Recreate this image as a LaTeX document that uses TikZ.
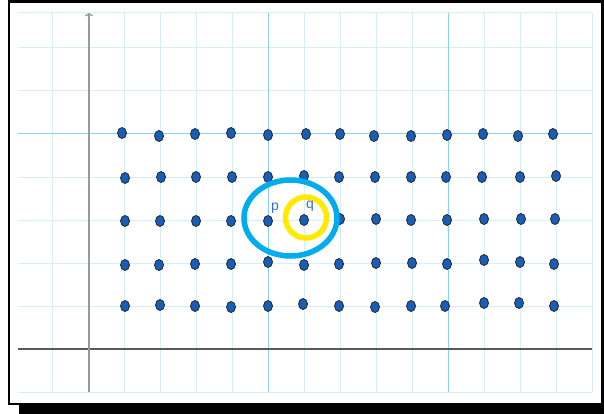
\documentclass[tikz,border=0pt]{standalone}
\usepackage{fontspec}
\setsansfont{Liberation Sans}
\usetikzlibrary{shapes.geometric, arrows.meta}

\definecolor{gridminor}{RGB}{214,237,250}
\definecolor{gridmajor}{RGB}{140,208,242}
\definecolor{dotblue}{RGB}{22,94,184}
\definecolor{ringblue}{RGB}{0,172,236}
\definecolor{ringyellow}{RGB}{255,234,0}
\definecolor{labelblue}{RGB}{60,110,200}

\begin{document}
\begin{tikzpicture}[
          x=1pt, y=-1pt,
          dot/.style={ellipse, draw=black!85, fill=dotblue, line width=0.8pt,
                      minimum width=9pt, minimum height=11pt, inner sep=0pt},
          lbl/.style={text=labelblue, font=\sffamily\fontsize{14}{14}\selectfont,
                      inner sep=0pt}
        ]
          \useasboundingbox (0,0) rectangle (604,414);
          % frame and shadow
          \fill[white] (9,1.5) rectangle (602.5,404);
          \draw[line width=2.5pt] (9,1.5) rectangle (602.5,404);
          \fill[black] (19,403) rectangle (604,414);
          % grid
          \foreach \gx in {52,124,160,196,232,304,340,376,412,484,520,556,592}
            \draw[gridminor, line width=1pt] (\gx,13) -- (\gx,392);
          \foreach \gy in {13,48,91,177,220,263,306,392}
            \draw[gridminor, line width=1pt] (18,\gy) -- (592,\gy);
          \foreach \gx in {268,448}
            \draw[gridmajor, line width=1pt] (\gx,13) -- (\gx,392);
          \draw[gridmajor, line width=1pt] (18,134) -- (592,134);
          % axes
          \draw[black!65, line width=1.4pt] (18,349) -- (592,349);
          \draw[black!40, line width=1.4pt, -{Straight Barb[length=2pt, width=7pt]}]
            (89,392) -- (89,13);
          % points
          \foreach \px/\py [count=\c] in {122/133,159/136,195/134,231/133,268/135,306/134,340/134,374/136,411/136,447/135,483/134,518/136,553/134}
            \node[dot] (r5c\c) at (\px,\py) {};
          \foreach \px/\py [count=\c] in {125/178,161/177,196/177,232/177,268/177,304/176,339/177,375/177,411/177,446/177,482/177,520/177,556/176}
            \node[dot] (r4c\c) at (\px,\py) {};
          \foreach \px/\py [count=\c] in {125/221,160/221,196/221,231/221,268/221,304/220,340/219,376/219,411/220,447/220,484/219,521/219,555/219}
            \node[dot] (r3c\c) at (\px,\py) {};
          \foreach \px/\py [count=\c] in {125/265,159/265,195/264,231/264,268/262,304/265,339/264,376/263,412/263,447/264,484/260,520/262,554/264}
            \node[dot] (r2c\c) at (\px,\py) {};
          \foreach \px/\py [count=\c] in {125/306,160/305,195/306,231/307,268/306,303/304,339/306,375/307,411/306,445/306,484/303,519/303,554/306}
            \node[dot] (r1c\c) at (\px,\py) {};
          % neighbourhoods
          \draw[ringblue, line width=5.5pt] (290.5,218) ellipse (46.5 and 38);
          \draw[ringyellow, line width=5.5pt] (306,217.5) circle (20.5);
          \node[lbl] (p) at (275,208) {p};
          \node[lbl] (q) at (310,206) {q};
        \end{tikzpicture}
\end{document}
